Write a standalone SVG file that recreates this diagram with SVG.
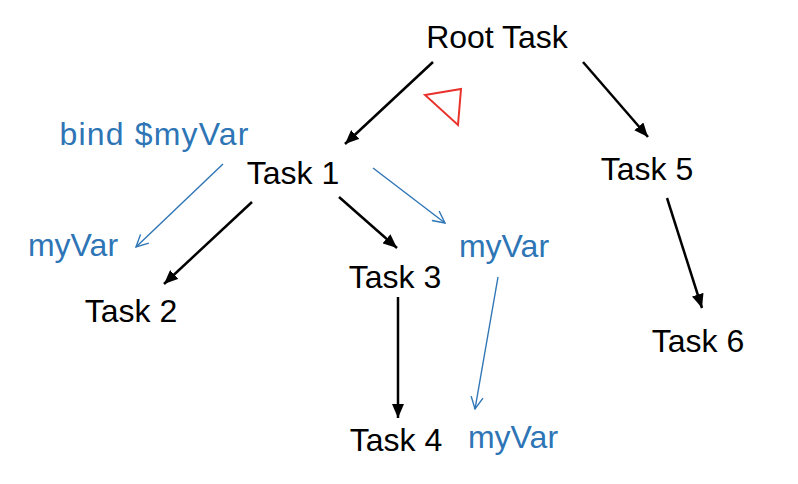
<svg xmlns="http://www.w3.org/2000/svg" width="798" height="484" viewBox="0 0 798 484">
<style>
text{font-family:"Liberation Sans",Arial,sans-serif;font-size:32px;text-anchor:middle}
.t{fill:#000}
.v{fill:#2e75b6}
.bk{stroke:#000;stroke-width:2.5;fill:none}
.bl{stroke:#2e75b6;stroke-width:1.4;fill:none}
</style>
<defs>
<marker id="ah" markerUnits="userSpaceOnUse" viewBox="0 0 14 12" refX="14" refY="6" markerWidth="14" markerHeight="12" orient="auto">
<path d="M0,0 L14,6 L0,12 Z" fill="#000"/>
</marker>
<marker id="av" markerUnits="userSpaceOnUse" viewBox="0 0 14 14" refX="13" refY="7" markerWidth="14" markerHeight="14" orient="auto">
<path d="M1,1 L13,7 L1,13" fill="none" stroke="#2e75b6" stroke-width="1.4"/>
</marker>
</defs>
<rect width="798" height="484" fill="#fff"/>
<g id="connectors">
<line class="bk" x1="433" y1="62" x2="345" y2="144" marker-end="url(#ah)"/>
<line class="bk" x1="583" y1="62" x2="648" y2="137" marker-end="url(#ah)"/>
<line class="bk" x1="252" y1="202" x2="164" y2="284" marker-end="url(#ah)"/>
<line class="bk" x1="339" y1="197" x2="397" y2="248" marker-end="url(#ah)"/>
<line class="bk" x1="398" y1="297" x2="398" y2="418" marker-end="url(#ah)"/>
<line class="bk" x1="667" y1="198" x2="702" y2="308" marker-end="url(#ah)"/>
<line class="bl" x1="223" y1="164" x2="136" y2="247" marker-end="url(#av)"/>
<line class="bl" x1="373" y1="168" x2="445" y2="223" marker-end="url(#av)"/>
<line class="bl" x1="498" y1="277" x2="475" y2="409" marker-end="url(#av)"/>
</g>
<g id="root"><text class="t" x="497" y="48">Root Task</text></g>
<g id="task1"><text class="t" x="293" y="184">Task 1</text></g>
<g id="task2"><text class="t" x="131" y="322">Task 2</text></g>
<g id="task3"><text class="t" x="395" y="288">Task 3</text></g>
<g id="task4"><text class="t" x="396" y="451">Task 4</text></g>
<g id="task5"><text class="t" x="647" y="180">Task 5</text></g>
<g id="task6"><text class="t" x="698" y="352">Task 6</text></g>
<g id="bind"><text class="v" x="154" y="145" textLength="189">bind $myVar</text></g>
<g id="myvar1"><text class="v" x="73" y="256">myVar</text></g>
<g id="myvar2"><text class="v" x="504" y="257">myVar</text></g>
<g id="myvar3"><text class="v" x="513" y="448">myVar</text></g>
<g id="marker-triangle"><polygon points="425,95 461,89 458,125" fill="none" stroke="#e8322b" stroke-width="2"/></g>
</svg>
